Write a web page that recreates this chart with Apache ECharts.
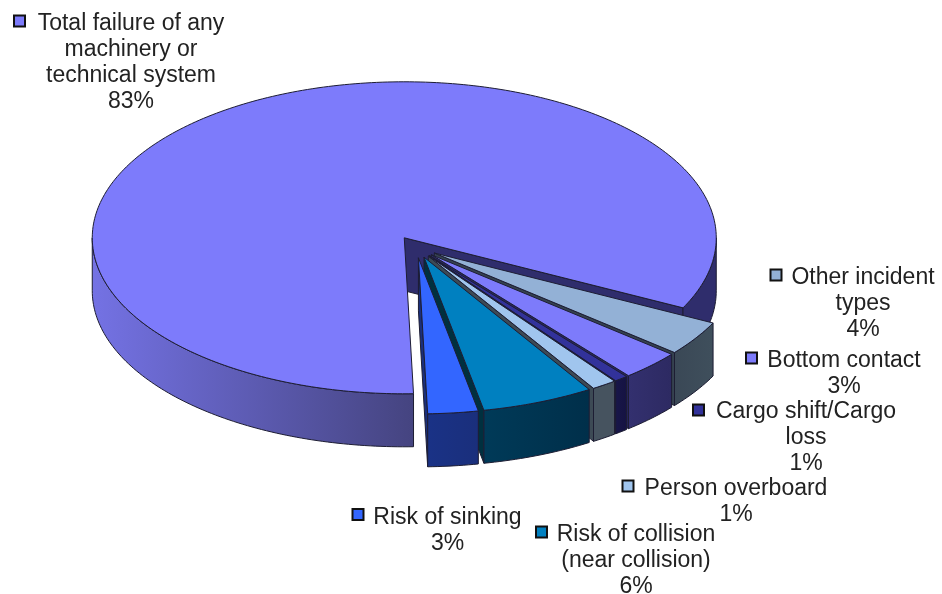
<!DOCTYPE html>
<html>
<head>
<meta charset="utf-8">
<title>Incident types</title>
<script src="https://cdn.jsdelivr.net/npm/echarts@6/dist/echarts.min.js"></script>
<style>
    html, body { margin: 0; background: #fff; }
    #chart { width: 942px; height: 594px; }
</style>
</head>
<body>
<div id="chart"></div>
<script>
// clockwise from the big slice
const names = [
    'Total failure of any\nmachinery or\ntechnical system',
    'Other incident\ntypes',
    'Bottom contact',
    'Cargo shift/Cargo\nloss',
    'Person overboard',
    'Risk of collision\n(near collision)',
    'Risk of sinking',
]
const values = [82.8, 3.6, 3.1, 0.7, 1.3, 5.8, 2.6]

const topColors = ['#7d7bfb', '#93b1d6', '#7d7bfb', '#32329a', '#a0c5ee', '#0080c0', '#3366ff']
// wall colour at the left and right of each slice, the big one has its own shading
const wallLeft = ['#7472e4', '#3a4856', '#33306f', '#181649', '#46535f', '#003a58', '#1a3286']
const wallRight = ['#454480', '#3f4f5c', '#2d2a62', '#151342', '#46535f', '#002f4a', '#1a2f7c']
const cutColors = ['#2f2d6c', '#35424f', '#2a2860', '#141240', '#3d4a55', '#00303f', '#1a2f7c']

// pie geometry, in pixels
const cx = 416
const cy = 247
const rx = 312
const ry = 156
const depth = 53
const explode = 0.07
const startAngle = 178.3

// [key x, key y, text centre x, first line y]
const labelLayout = [
    [19.5, 21, 131, 23.5],
    [776, 275, 863, 277.5],
    [751.5, 358, 844, 360.5],
    [698.5, 410, 806, 411.5],
    [628, 486, 736, 488.5],
    [541.5, 532, 636, 534.5],
    [358, 514.5, 447.5, 517.5],
]
const lineHeight = 26

const total = values.reduce((a, b) => a + b, 0)
const spans = []
let acc = startAngle
values.forEach((v) => {
    const end = acc + (v / total) * 360
    spans.push([acc, end])
    acc = end
})

function rad(a) {
    return (a * Math.PI) / 180
}

function sliceOffset(i) {
    const mid = rad((spans[i][0] + spans[i][1]) / 2)
    return [explode * rx * Math.sin(mid), -explode * ry * Math.cos(mid)]
}

function rim(i, a, dy) {
    const o = sliceOffset(i)
    return [cx + o[0] + rx * Math.sin(rad(a)), cy + o[1] - ry * Math.cos(rad(a)) + (dy || 0)]
}

function arcPoints(i, a, b, dy) {
    const n = Math.max(2, Math.ceil(Math.abs(b - a)))
    const pts = []
    for (let k = 0; k <= n; k++) {
        pts.push(rim(i, a + ((b - a) * k) / n, dy))
    }
    return pts
}

function renderSlice(params) {
    const i = params.dataIndex
    const [a, b] = spans[i]
    const o = sliceOffset(i)
    const apex = [cx + o[0], cy + o[1]]
    const stroke = '#1d1d33'
    const children = []

    // cut face on the clockwise end, the only one the viewer sees
    const e0 = rim(i, b)
    children.push({
        type: 'polygon',
        shape: { points: [apex, e0, [e0[0], e0[1] + depth], [apex[0], apex[1] + depth]] },
        style: { fill: cutColors[i], stroke, lineWidth: 1 },
    })

    // outer wall, front half of the ellipse only
    ;[0, 360].forEach((k) => {
        const from = Math.max(a, 90 + k)
        const to = Math.min(b, 270 + k)
        if (from >= to) return
        const upper = arcPoints(i, from, to, 0)
        const lower = arcPoints(i, to, from, depth)
        const xs = upper.map((p) => p[0])
        const dark = i === 0 && k === 360
        children.push({
            type: 'polygon',
            shape: { points: upper.concat(lower) },
            style: {
                fill: dark
                    ? cutColors[0]
                    : new echarts.graphic.LinearGradient(
                          Math.min(...xs), 0, Math.max(...xs), 0,
                          [
                              { offset: 0, color: wallLeft[i] },
                              { offset: 1, color: wallRight[i] },
                          ],
                          true
                      ),
                stroke,
                lineWidth: 1,
            },
        })
    })

    // top face
    children.push({
        type: 'polygon',
        shape: { points: [apex].concat(arcPoints(i, a, b, 0)) },
        style: { fill: topColors[i], stroke, lineWidth: 1 },
    })

    return { type: 'group', children }
}

function renderLabel(params) {
    const i = params.dataIndex
    const [kx, ky, tx, ty] = labelLayout[i]
    return {
        type: 'group',
        children: [
            {
                type: 'rect',
                shape: { x: kx - 5.5, y: ky - 5.5, width: 11, height: 11 },
                style: { fill: topColors[i], stroke: '#111', lineWidth: 2 },
            },
            {
                type: 'text',
                style: {
                    x: tx,
                    y: ty - lineHeight / 2,
                    text: names[i] + '\n' + Math.round(values[i]) + '%',
                    fill: '#222',
                    font: '23px "Liberation Sans", Arial, sans-serif',
                    lineHeight,
                    align: 'center',
                    verticalAlign: 'top',
                },
            },
        ],
    }
}

const chart = echarts.init(document.getElementById('chart'))
chart.setOption({
    animation: false,
    backgroundColor: '#fff',
    series: [
        {
            name: 'slices',
            type: 'custom',
            coordinateSystem: 'none',
            silent: true,
            renderItem: renderSlice,
            data: values,
            z: 2,
        },
        {
            name: 'labels',
            type: 'custom',
            coordinateSystem: 'none',
            silent: true,
            renderItem: renderLabel,
            data: values,
            z: 3,
        },
    ],
})
</script>
</body>
</html>
